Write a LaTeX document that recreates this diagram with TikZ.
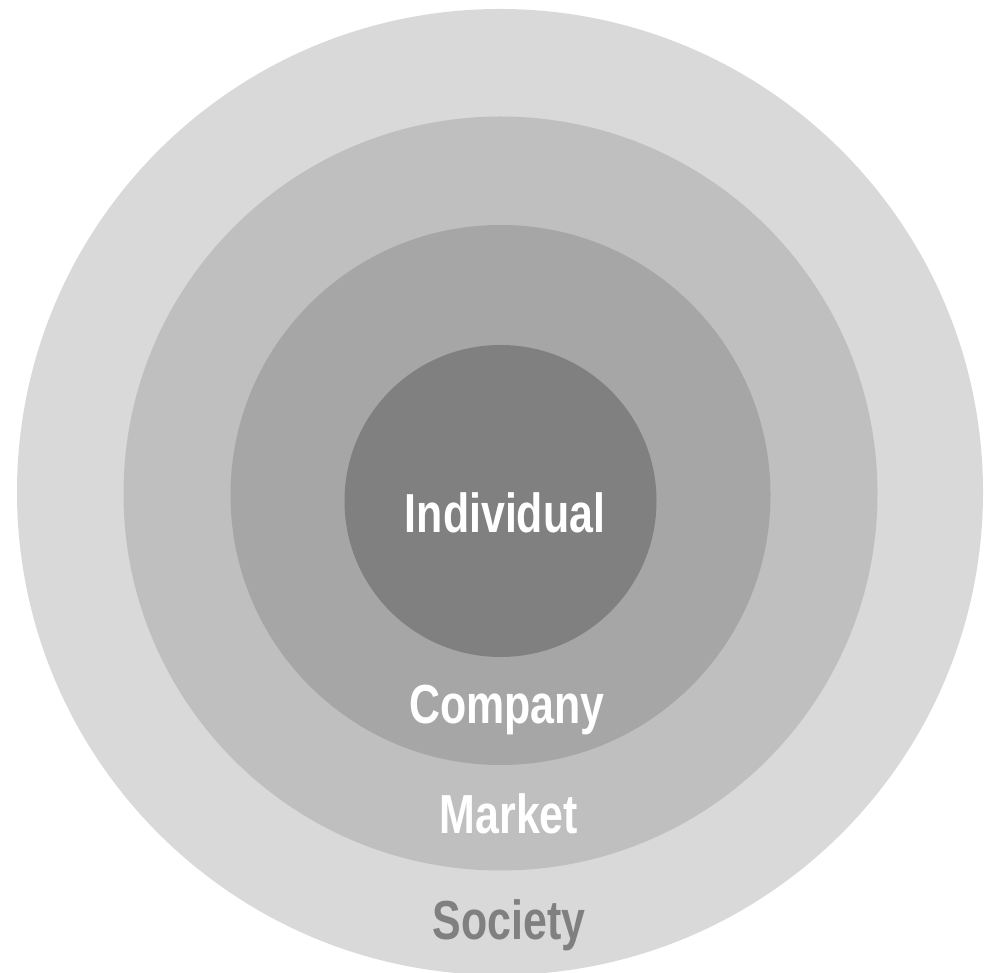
\documentclass[tikz,border=0pt]{standalone}
\usepackage{fontspec}
\usepackage{tikz}
\usetikzlibrary{positioning}
\newfontfamily\labelfont[FakeStretch=0.78]{Liberation Sans}
\definecolor{societygray}{HTML}{D9D9D9}
\definecolor{marketgray}{HTML}{BFBFBF}
\definecolor{companygray}{HTML}{A6A6A6}
\definecolor{individualgray}{HTML}{808080}

\begin{document}
\begin{tikzpicture}[
  x=1pt, y=1pt,
  ring/.style={circle, draw=none, inner sep=0pt, outer sep=0pt},
  ringlabel/.style={anchor=base, inner sep=0pt, font=\labelfont\bfseries\fontsize{55}{62}\selectfont},
  lightlabel/.style={ringlabel, text=white},
  darklabel/.style={ringlabel, text=individualgray}
]
\useasboundingbox (0,0) rectangle (985,972);
\begin{scope}
\clip (0,0) rectangle (985,972);
\node[ring, fill=societygray, minimum size=966] (society) at (500,480) {};
\node[ring, fill=marketgray, minimum size=754] (market) at (500.5,478.5) {};
\node[ring, fill=companygray, minimum size=540] (company) at (500.5,477) {};
\node[ring, fill=individualgray, minimum size=312] (individual) at (500.5,471) {};
\end{scope}
\node[lightlabel] (individualtext) at (505,439) {Individual};
\node[lightlabel] (companytext) at (507,248) {Company};
\node[lightlabel] (markettext) at (509,139) {Market};
\node[darklabel] (societytext) at (509,33) {Society};
\end{tikzpicture}
\end{document}
